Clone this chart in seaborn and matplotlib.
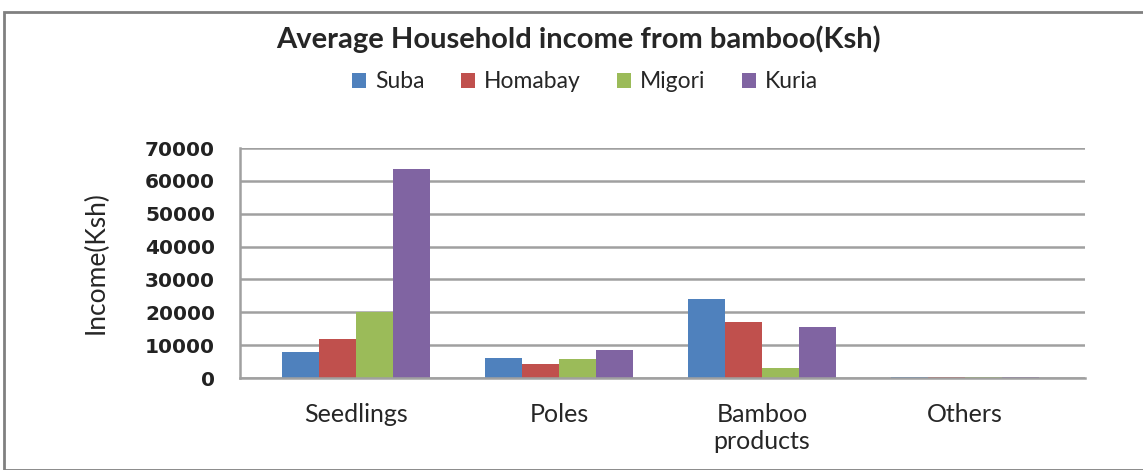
import matplotlib
matplotlib.use("Agg")
import matplotlib.pyplot as plt
import seaborn as sns
import pandas as pd
from matplotlib.patches import Rectangle

categories = ["Seedlings", "Poles", "Bamboo\nproducts", "Others"]
regions = ["Suba", "Homabay", "Migori", "Kuria"]
suba = [8000, 6000, 24000, 400]
homabay = [12000, 4300, 17000, 400]
migori = [20000, 5800, 3000, 400]
kuria = [63500, 8500, 15500, 400]
yticks = [0, 10000, 20000, 30000, 40000, 50000, 60000, 70000]
colors = ["#4F81BD", "#C0504D", "#9BBB59", "#8064A2"]

rows = []
for reg, vals in zip(regions, [suba, homabay, migori, kuria]):
    for cat, v in zip(categories, vals):
        rows.append({"Category": cat, "Region": reg, "Income": v})
df = pd.DataFrame(rows)

sns.set_style("white")
plt.rcParams["font.family"] = ["Lato", "DejaVu Sans"]

fig = plt.figure(figsize=(11.43, 4.70), dpi=100)
ax = fig.add_axes([240 / 1143, 1 - 378 / 470, (1085 - 240) / 1143, (378 - 148) / 470])

sns.barplot(data=df, x="Category", y="Income", hue="Region", order=categories,
            hue_order=regions, palette=colors, width=0.73, ax=ax,
            edgecolor="none", saturation=1)

ax.set_xlim(-0.571, 3.59)
ax.set_ylim(0, 70000)
ax.set_yticks(yticks)
ax.set_yticklabels([str(t) for t in yticks], fontfamily="DejaVu Sans",
                   fontweight="bold", fontsize=14.5, color="#222222")
ax.yaxis.grid(True, color="#A0A0A0", linewidth=1.8)
ax.set_axisbelow(True)
for s in ["top", "right"]:
    ax.spines[s].set_visible(False)
for s in ["left", "bottom"]:
    ax.spines[s].set_color("#A0A0A0")
    ax.spines[s].set_linewidth(1.8)
ax.tick_params(axis="x", length=0, pad=18, labelsize=18)
ax.tick_params(axis="y", length=6, color="#A0A0A0", width=1.5, pad=12)
ax.set_xlabel("")
ax.set_ylabel("Income(Ksh)", fontsize=19, labelpad=26)

ax.legend(loc="center", bbox_to_anchor=(585 / 1143, 1 - 82 / 470),
          bbox_transform=fig.transFigure, ncol=4, frameon=False, fontsize=16.5,
          handlelength=0.6, handleheight=0.6, handletextpad=0.4, columnspacing=1.6)

fig.text(578 / 1143, 1 - 39 / 470, "Average Household income from bamboo(Ksh)",
         ha="center", va="center", fontsize=21, fontweight="bold")

fig.patches.append(Rectangle((4 / 1143, 0), 1.1, 1 - 12 / 470, transform=fig.transFigure,
                             fill=False, edgecolor="#808080", linewidth=2.0))

fig.savefig("out.png", dpi=100)
